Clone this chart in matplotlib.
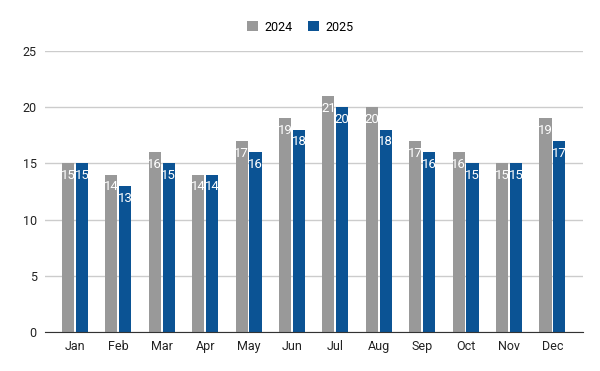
import numpy as np
import matplotlib.pyplot as plt

plt.rcParams['font.family'] = ['Roboto', 'DejaVu Sans']

months = ['Jan', 'Feb', 'Mar', 'Apr', 'May', 'Jun', 'Jul', 'Aug', 'Sep', 'Oct', 'Nov', 'Dec']
vals_2024 = [15, 14, 16, 14, 17, 19, 21, 20, 17, 16, 15, 19]
vals_2025 = [15, 13, 15, 14, 16, 18, 20, 18, 16, 15, 15, 17]
yticks = [0, 5, 10, 15, 20, 25]

grey = '#999999'
blue = '#0b5394'

fig = plt.figure(figsize=(6, 3.71), dpi=100)
ax = fig.add_axes([0.075, 0.105, 0.897, 0.7575])

x = np.arange(len(months))
w = 0.28
off = 0.16
b1 = ax.bar(x - off, vals_2024, w, color=grey, label='2024', zorder=3)
b2 = ax.bar(x + off, vals_2025, w, color=blue, label='2025', zorder=3)

# white value labels just under the bar tops
for bars, vals in ((b1, vals_2024), (b2, vals_2025)):
    for r, v in zip(bars, vals):
        ax.text(r.get_x() + r.get_width() / 2, v - 0.5, str(v), ha='center', va='top',
                color='white', fontsize=9.5, zorder=4)

ax.set_xlim(-0.69, 11.71)
ax.set_ylim(0, 25)
ax.set_yticks(yticks)
ax.set_xticks(x)
ax.set_xticklabels(months)
ax.grid(axis='y', color='#cccccc', linewidth=1, zorder=0)
ax.tick_params(length=0, labelsize=9, colors='#222222')
ax.tick_params(axis='y', pad=6)
ax.tick_params(axis='x', pad=6)
for s in ['top', 'right', 'left']:
    ax.spines[s].set_visible(False)
ax.spines['bottom'].set_color('#333333')
ax.spines['bottom'].set_zorder(5)

fig.legend(loc='upper center', bbox_to_anchor=(0.5, 0.975), ncol=2, frameon=False,
           fontsize=9, handlelength=0.9, handleheight=0.9, handletextpad=0.5, columnspacing=1.2)

fig.savefig('out.png', dpi=100)
